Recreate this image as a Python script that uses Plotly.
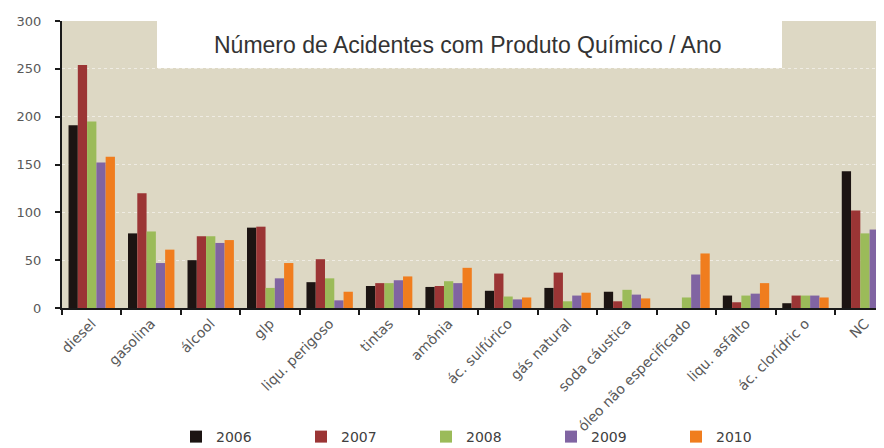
import plotly.graph_objects as go

categories = ["diesel", "gasolina", "álcool", "glp", "liqu. perigoso", "tintas", "amônia",
              "ác. sulfúrico", "gás natural", "soda cáustica", "óleo não especificado",
              "liqu. asfalto", "ác. clorídric o", "NC"]
v2006 = [191, 78, 50, 84, 27, 23, 22, 18, 21, 17, 0, 13, 5, 143]
v2007 = [254, 120, 75, 85, 51, 26, 23, 36, 37, 7, 0, 6, 13, 102]
v2008 = [195, 80, 75, 21, 31, 26, 28, 12, 7, 19, 11, 13, 13, 78]
v2009 = [152, 47, 68, 31, 8, 29, 26, 9, 13, 14, 35, 15, 13, 82]
v2010 = [158, 61, 71, 47, 17, 33, 42, 11, 16, 10, 57, 26, 11, 91]
years = ["2006", "2007", "2008", "2009", "2010"]
series = [v2006, v2007, v2008, v2009, v2010]
colors = ["#1C1412", "#9B3535", "#9BBB59", "#8064A2", "#F07D1E"]
yticks = [0, 50, 100, 150, 200, 250, 300]
title_text = "Número de Acidentes com Produto Químico / Ano"

# page body has an 8px default margin; compensate
OFF = 8
L, T, B = 62 - OFF, 21 - OFF, 140
W, H = 884 - OFF, 448 - OFF
PW, PH = W - L, H - T - B  # 822 x 287

def px(x):
    return (x - OFF - L) / PW

def py(y):
    return (H - B - (y - OFF)) / PH

fig = go.Figure()
for name, vals, c in zip(years, series, colors):
    fig.add_trace(go.Bar(name=name, x=categories, y=vals, marker=dict(color=c, line=dict(width=0))))

fig.update_layout(
    width=W, height=H,
    margin=dict(l=L, r=0, t=T, b=B, autoexpand=False),
    paper_bgcolor="white",
    plot_bgcolor="#DDD8C4",
    barmode="group",
    bargap=0.22,
    bargroupgap=0,
    showlegend=True,
    legend=dict(orientation="h", x=px(176), xanchor="left", y=py(437), yanchor="middle",
                font=dict(family="DejaVu Sans", size=14, color="#404040"),
                entrywidth=80, entrywidthmode="pixels", itemwidth=30,
                bgcolor="rgba(0,0,0,0)"),
    font=dict(family="DejaVu Sans", color="#595959"),
)
fig.update_xaxes(
    type="category", range=[-0.5, 13.32], automargin=False,
    showline=True, linecolor="#1a1a1a", linewidth=2,
    ticks="outside", tickson="boundaries", ticklen=5, tickwidth=2, tickcolor="#1a1a1a",
    tickangle=-45, tickfont=dict(family="DejaVu Sans", size=14, color="#595959"),
    showgrid=False,
)
fig.update_yaxes(
    range=[0, 300], tickvals=yticks, automargin=False,
    showline=True, linecolor="#1a1a1a", linewidth=2,
    ticks="outside", ticklen=5, tickwidth=2, tickcolor="#1a1a1a",
    tickfont=dict(family="DejaVu Sans", size=13, color="#595959"),
    ticklabelstandoff=11,
    showgrid=True, gridcolor="#EFECE3", gridwidth=1, griddash="dot",
    zeroline=False,
)
# title box overlapping plot area
fig.add_shape(type="rect", xref="paper", yref="paper",
              x0=px(157), x1=px(782), y0=py(68), y1=1.0,
              fillcolor="white", line=dict(width=0), layer="above")
fig.add_annotation(text=title_text, xref="paper", yref="paper",
                   x=px(468), y=py(45), xanchor="center", yanchor="middle",
                   showarrow=False, font=dict(family="Liberation Sans", size=23, color="#333333"))
fig.write_html("out.html")
